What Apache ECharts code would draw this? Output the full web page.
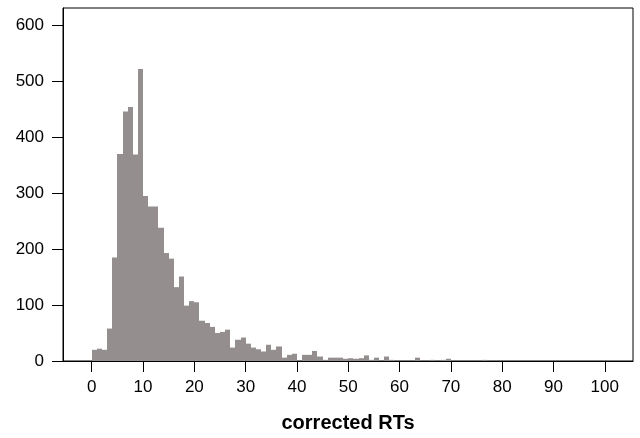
<!DOCTYPE html>
<html lang="en">
<head>
  <meta charset="UTF-8" />
  <title>corrected RTs · histogram</title>
  <script src="https://cdn.jsdelivr.net/npm/echarts@6/dist/echarts.min.js"></script>
  <style>
    html, body { margin: 0; padding: 0; width: 640px; height: 438px; overflow: hidden; background: #fff; }
    #chart { position: absolute; top: 0; left: 0; width: 640px; height: 438px; }
  </style>
</head>
<body>
<div id="chart"></div>
<script>
/* ==== data ==== */
// histogram counts, one bin per unit, bin k covers [k, k+1)
const counts = [
  20, 22, 20, 58, 185, 370, 446, 454, 369, 522,   // 0-9
  295, 276, 276, 238, 193, 183, 132, 151, 99, 107, // 10-19
  105, 72, 68, 61, 50, 52, 56, 24, 38, 42,        // 20-29
  31, 24, 21, 17, 29, 20, 26, 6, 11, 13,          // 30-39
  0, 11, 11, 18, 8, 2, 6, 6, 6, 4,                // 40-49
  5, 4, 5, 10, 2, 6, 0, 8, 2, 0,                  // 50-59
  0, 0, 0, 6, 0, 0, 2, 0, 2, 4,                   // 60-69
  0, 0, 0, 0, 0, 0, 2, 0, 0, 0                    // 70-79
];
const binWidth = 1;
const xTicks = [0, 10, 20, 30, 40, 50, 60, 70, 80, 90, 100];
const yTicks = [0, 100, 200, 300, 400, 500, 600];
const xTitle = 'corrected RTs';

const font = '"Liberation Sans", Arial, Helvetica, sans-serif';
const barData = counts.map((c, i) => [i * binWidth, (i + 1) * binWidth, c]);

/* ==== chart ==== */
const chart = echarts.init(document.getElementById('chart'));
chart.setOption({
  animation: false,
  grid: { left: 63, right: 7, top: 8, bottom: 76, show: true, borderColor: '#000', borderWidth: 1 },
  xAxis: {
    type: 'value', min: -5.6, max: 105.5,
    name: xTitle, nameLocation: 'middle', nameGap: 52,
    nameTextStyle: { fontFamily: font, fontSize: 20, fontWeight: 'bold', color: '#000' },
    axisLine: { onZero: false, lineStyle: { color: '#000', width: 1 } },
    axisTick: { show: true, length: 11, lineStyle: { color: '#000' }, customValues: xTicks },
    axisLabel: { fontFamily: font, fontSize: 17, color: '#000', margin: 18, customValues: xTicks },
    splitLine: { show: false }
  },
  yAxis: {
    type: 'value', min: 0, max: 631,
    axisLine: { show: true, onZero: false, lineStyle: { color: '#000', width: 1 } },
    axisTick: { show: true, length: 11, lineStyle: { color: '#000' }, customValues: yTicks },
    axisLabel: { fontFamily: font, fontSize: 17, color: '#000', margin: 19, customValues: yTicks },
    splitLine: { show: false }
  },
  series: [{
    type: 'custom',
    data: barData,
    encode: { x: [0, 1], y: 2 },
    renderItem: (params, api) => {
      const p0 = api.coord([api.value(0), api.value(2)]);
      const p1 = api.coord([api.value(1), 0]);
      // snap edges to whole pixels so neighbouring bars join up
      const x0 = Math.round(p0[0]), x1 = Math.round(p1[0]);
      return {
        type: 'rect',
        shape: { x: x0, y: p0[1], width: x1 - x0, height: p1[1] - p0[1] },
        style: { fill: '#948f8e' }
      };
    }
  }]
});
</script>
</body>
</html>
